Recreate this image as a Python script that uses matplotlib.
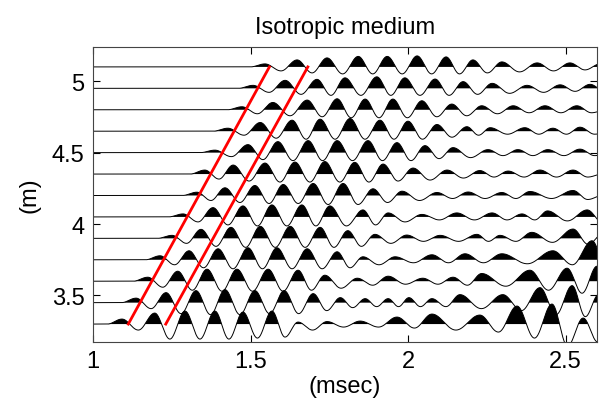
import numpy as np
import matplotlib.pyplot as plt

plt.rcParams['font.family'] = ['Liberation Sans', 'DejaVu Sans']

# receiver depths (m), bottom to top
depths = [3.30, 3.45, 3.60, 3.75, 3.90, 4.05, 4.20, 4.35, 4.50, 4.65, 4.80, 4.95, 5.10]

# picked arrival lines (ms) at the bottom and top receivers
pick_depth = [3.30, 5.10]
pick1_t = [1.112, 1.560]
pick2_t = [1.231, 1.682]

# positive lobes: (time ms, height) and the trough depths that follow each one
pk_330 = [(1.092, 5), (1.196, 11), (1.292, 13), (1.387, 13), (1.476, 12), (1.568, 13), (1.651, 2),
          (1.743, 2.5), (1.848, 3), (1.965, 7), (2.076, 10), (2.228, 9), (2.346, 18), (2.457, 20), (2.556, 6)]
tr_330 = [6, 15, 15, 15, 14, 13, 6, 3, 3, 4, 6, 8, 14, 22, 18]
pk_345 = [(1.137, 4.5), (1.232, 10), (1.327, 12), (1.419, 13), (1.514, 12), (1.607, 12), (1.699, 9),
          (1.785, 5), (1.864, 4), (1.937, 4), (2.003, 5), (2.076, 4), (2.165, 8), (2.301, 8), (2.419, 15),
          (2.521, 17), (2.605, 8)]
tr_345 = [6, 11, 12, 12, 11, 11, 8, 5, 4, 4, 4, 4, 6, 8, 12, 14, 10]
pk_360 = [(1.174, 4), (1.269, 10), (1.362, 12), (1.457, 12), (1.556, 12), (1.651, 11), (1.736, 6),
          (1.839, 3), (1.937, 5), (2.047, 3), (2.143, 4), (2.234, 7.7), (2.387, 11), (2.505, 13), (2.600, 15)]
tr_360 = [6, 9, 10, 10, 10, 9, 7, 4, 3, 3, 4, 5, 9, 12, 10]
pk_375 = [(1.213, 4), (1.305, 9), (1.397, 11), (1.492, 12), (1.584, 12), (1.680, 11), (1.775, 8),
          (1.857, 3), (1.959, 3), (2.076, 5), (2.181, 6), (2.298, 6), (2.460, 9), (2.584, 19)]
tr_375 = [5, 8, 9, 9, 9, 9, 8, 5, 3, 3, 3, 4, 5, 8, 10]
pk_390 = [(1.251, 3), (1.343, 9), (1.438, 11), (1.531, 12), (1.626, 12), (1.721, 11), (1.809, 7.7),
          (1.895, 4), (1.996, 3.3), (2.102, 3), (2.219, 4), (2.292, 3), (2.393, 6), (2.524, 9.3), (2.620, 5)]
tr_390 = [5, 8, 9, 9, 9, 9, 8, 5, 3, 3, 3, 3, 4, 6, 6]
pk_405 = [(1.286, 3), (1.381, 9.3), (1.476, 11), (1.568, 12), (1.663, 12), (1.752, 11), (1.857, 7),
          (1.937, 4), (2.044, 2.5), (2.155, 4), (2.267, 4), (2.362, 3), (2.443, 6), (2.569, 7)]
tr_405 = [5, 8, 9, 9, 9, 9, 8, 5, 3, 3, 3, 3, 4, 5, 4]
pk_420 = [(1.330, 3.3), (1.419, 7.7), (1.514, 10), (1.604, 11), (1.699, 12), (1.794, 12), (1.889, 6.7),
          (1.981, 4.3), (2.092, 3), (2.191, 3.5), (2.298, 3), (2.387, 4), (2.524, 5)]
tr_420 = [5, 7, 8, 8, 9, 9, 7, 5, 3, 3, 3, 3, 4, 3]
pk_435 = [(1.355, 4), (1.445, 9), (1.546, 11), (1.641, 12), (1.736, 12.5), (1.831, 11.7), (1.921, 10),
          (2.016, 6), (2.124, 4), (2.228, 3.5), (2.318, 3), (2.419, 4), (2.524, 4)]
tr_435 = [5, 7, 8, 8, 8, 8, 7, 6, 4, 3, 3, 3, 3, 3]
pk_450 = [(1.387, 2.5), (1.492, 8), (1.587, 11), (1.683, 12), (1.775, 12), (1.873, 12), (1.965, 10),
          (2.054, 7), (2.143, 5), (2.254, 3), (2.349, 3), (2.444, 3), (2.546, 3.5)]
tr_450 = [4, 7, 8, 8, 8, 8, 8, 6, 5, 3, 3, 3, 3, 3]
pk_465 = [(1.428, 3), (1.531, 8.7), (1.632, 11), (1.721, 12), (1.816, 12.7), (1.911, 11), (2.000, 10),
          (2.092, 6.7), (2.187, 4.5), (2.261, 3.5), (2.371, 3.5), (2.460, 3), (2.546, 4)]
tr_465 = [4, 7, 8, 8, 8, 8, 8, 6, 4, 3, 3, 3, 3, 3]
pk_480 = [(1.473, 3), (1.571, 7.3), (1.680, 9.7), (1.775, 11), (1.864, 10.7), (1.952, 10.7), (2.044, 9),
          (2.139, 5.7), (2.234, 4), (2.334, 4), (2.435, 4), (2.536, 4)]
tr_480 = [4, 6, 7, 8, 8, 8, 7, 6, 4, 3, 3, 3, 3]
pk_495 = [(1.508, 3), (1.610, 8), (1.711, 9), (1.800, 10.5), (1.901, 11.5), (1.990, 10.5), (2.086, 9.3),
          (2.175, 6.7), (2.267, 5), (2.378, 3), (2.483, 3.5), (2.578, 4)]
tr_495 = [4, 6, 7, 7, 7, 7, 7, 6, 5, 4, 3, 3]
pk_510 = [(1.546, 3), (1.648, 7), (1.743, 9), (1.842, 10.5), (1.934, 10.5), (2.029, 11), (2.121, 10),
          (2.206, 7), (2.298, 5), (2.410, 4), (2.514, 4), (2.610, 3)]
tr_510 = [4, 6, 7, 7, 7, 7, 7, 6, 5, 4, 3, 3]

peaks = [pk_330, pk_345, pk_360, pk_375, pk_390, pk_405, pk_420,
         pk_435, pk_450, pk_465, pk_480, pk_495, pk_510]
troughs = [tr_330, tr_345, tr_360, tr_375, tr_390, tr_405, tr_420,
           tr_435, tr_450, tr_465, tr_480, tr_495, tr_510]

gain = 1 / 142.8   # metres per amplitude unit (pixels)
half = 0.0466      # ms, lead-in / tail half cycle


def wiggle(t, pk, tr):
    # extrema sequence: peak, trough, peak, trough ... joined by half-cosines
    pt = [p[0] for p in pk]
    pa = [p[1] for p in pk]
    tk, ak = [pt[0] - half], [0.0]
    for i in range(len(pt)):
        tk.append(pt[i]); ak.append(pa[i])
        if i < len(tr):
            nxt = pt[i + 1] if i + 1 < len(pt) else pt[i] + 2 * half
            tk.append((pt[i] + nxt) / 2); ak.append(-tr[i])
    tk.append(tk[-1] + half); ak.append(0.0)
    tk, ak = np.array(tk), np.array(ak)
    idx = np.clip(np.searchsorted(tk, t) - 1, 0, len(tk) - 2)
    s = np.clip((t - tk[idx]) / (tk[idx + 1] - tk[idx]), 0, 1)
    return ak[idx] + (ak[idx + 1] - ak[idx]) * (1 - np.cos(np.pi * s)) / 2


fig = plt.figure(figsize=(6, 4.06), dpi=100)
ax = fig.add_axes([0.155, 0.155, 0.84, 0.727])

t = np.linspace(1.0, 2.62, 3200)
for d, pk, tr in zip(depths, peaks, troughs):
    y = d + wiggle(t, pk, tr) * gain
    ax.fill_between(t, d, y, where=y > d, interpolate=True, color='k', lw=0)
    ax.plot(t, y, color='k', lw=0.7)

ax.plot(pick1_t, pick_depth, color='r', lw=2)
ax.plot(pick2_t, pick_depth, color='r', lw=2)

ax.set_xlim(1.0, 2.6)
ax.set_ylim(3.174, 5.24)
ax.set_xticks([1, 1.5, 2, 2.5])
ax.set_xticklabels(['1', '1.5', '2', '2.5'])
ax.set_yticks([3.5, 4, 4.5, 5])
ax.set_yticklabels(['3.5', '4', '4.5', '5'])
ax.tick_params(direction='in', top=True, right=True, length=5, labelsize=17, pad=6)
for sp in ax.spines.values():
    sp.set_color('#444444')
ax.set_title('Isotropic medium', fontsize=17, pad=10)
ax.set_xlabel('(msec)', fontsize=17, labelpad=2)
ax.set_ylabel('(m)', fontsize=17, labelpad=8)

fig.savefig('out.png', dpi=100)
